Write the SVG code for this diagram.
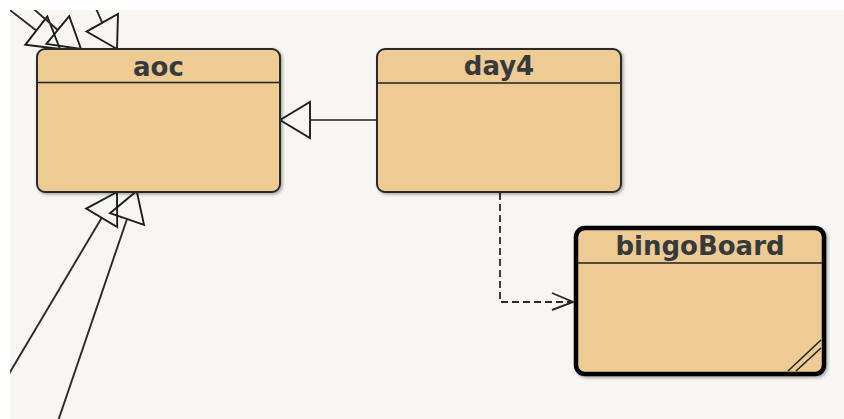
<svg xmlns="http://www.w3.org/2000/svg" width="844" height="419" viewBox="0 0 844 419">
  <style>
    .box { fill: #eecb93; stroke: #2a2a2a; stroke-width: 2; }
    .bold { fill: #eecb93; stroke: #000000; stroke-width: 4.5; }
    .sep { stroke: #222222; stroke-width: 1.6; }
    .title { font-family: "DejaVu Sans", sans-serif; font-weight: bold; font-size: 26px; fill: #373a3c; text-anchor: middle; }
    .edge { fill: none; stroke: #2a2a2a; stroke-width: 1.9; }
    .head { fill: none; stroke: #1e1e1e; stroke-width: 1.9; stroke-linejoin: miter; }
    .dash { fill: none; stroke: #2a2a2a; stroke-width: 1.8; stroke-dasharray: 7 4; }
  </style>
  <defs>
    <filter id="sh" x="-10%" y="-10%" width="130%" height="130%">
      <feDropShadow dx="1.5" dy="1.5" stdDeviation="1.5" flood-color="#000" flood-opacity="0.35"/>
    </filter>
    <clipPath id="area"><rect x="10" y="10" width="834" height="409"/></clipPath>
  </defs>
  <rect x="0" y="0" width="844" height="419" fill="#ffffff"/>
  <rect x="10" y="10" width="834" height="409" fill="#f7f6f2"/>

  <g id="connectors" clip-path="url(#area)">
    <!-- top-left generalizations into aoc -->
    <line class="edge" x1="0" y1="2.4" x2="36.3" y2="30.6"/>
    <polygon class="head" points="60,49 25.3,44.8 47.3,16.4"/>
    <line class="edge" x1="30" y1="5.8" x2="57.8" y2="30"/>
    <polygon class="head" points="81,49 46.4,43.9 69.2,16.1"/>
    <line class="edge" x1="94" y1="4" x2="102.3" y2="22.8"/>
    <polygon class="head" points="117,49 86.6,31.6 118,14"/>
    <!-- bottom generalizations into aoc -->
    <line class="edge" x1="0" y1="389" x2="101.7" y2="217.8"/>
    <polygon class="head" points="117,192 86.2,208.6 117.2,227"/>
    <line class="edge" x1="55" y1="430" x2="127" y2="219"/>
    <polygon class="head" points="136.7,191 110,213.2 144,224.8"/>
    <!-- day4 -> aoc -->
    <line x1="310" y1="120" x2="377" y2="120" stroke="#555555" stroke-width="2.2"/>
    <polygon class="head" points="280,120 310,102 310,138"/>
    <!-- day4 -> bingoBoard dependency -->
    <polyline class="dash" points="500,193 500,302 572,302"/>
    <polyline class="edge" points="552,293 573,302 552,310"/>
  </g>

  <g id="aoc">
    <rect class="box" x="37" y="49" width="243" height="143" rx="8" filter="url(#sh)"/>
    <line class="sep" x1="37" y1="82.5" x2="280" y2="82.5"/>
    <text class="title" x="158.5" y="76">aoc</text>
  </g>

  <g id="day4">
    <rect class="box" x="377" y="49" width="244" height="143" rx="8" filter="url(#sh)"/>
    <line class="sep" x1="377" y1="83" x2="621" y2="83"/>
    <text class="title" x="499" y="75">day4</text>
  </g>

  <g id="bingoBoard">
    <rect class="bold" x="576" y="228" width="248" height="146" rx="9" filter="url(#sh)"/>
    <line class="sep" x1="578" y1="263" x2="822" y2="263"/>
    <text class="title" x="700" y="255">bingoBoard</text>
    <line x1="788" y1="371" x2="821" y2="340" stroke="#222" stroke-width="1.6"/>
    <line x1="796" y1="371" x2="821" y2="348" stroke="#222" stroke-width="1.6"/>
  </g>
</svg>
